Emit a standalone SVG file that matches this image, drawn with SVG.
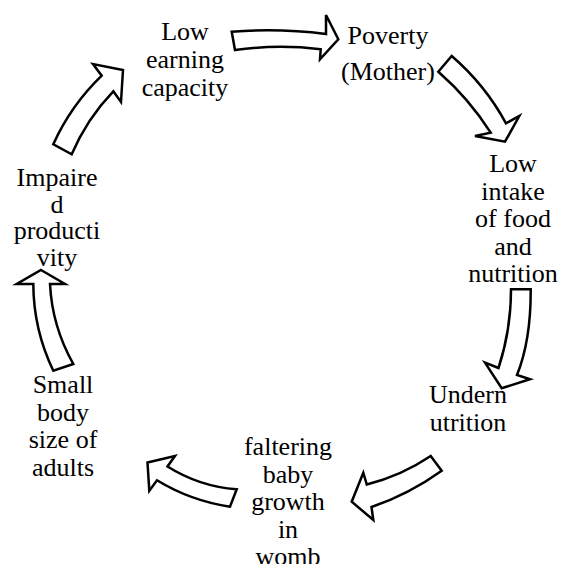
<svg xmlns="http://www.w3.org/2000/svg" width="561" height="564" viewBox="0 0 561 564">
<style>
.t{font-family:"Times New Roman","Liberation Serif","Nimbus Roman","DejaVu Serif",serif;font-size:26px;fill:#000;text-anchor:middle}
.arr{fill:#fff;stroke:#000;stroke-width:2.5;stroke-linejoin:miter}
</style>
<rect width="561" height="564" fill="#fff"/>
<g id="connectors">
<path class="arr" d="M231.7,31.7 Q279,28 326,34 L326,15 L338.3,39.3 L320,59.3 L320.7,49.3 Q278,44 235,50 Z"/>
<path class="arr" d="M438.3,71.7 L451.7,56 Q485,84.7 506,123.3 L519.3,116 L505,141.7 L475,136 L490.7,132.7 Q469,98.4 438.3,71.7 Z"/>
<path class="arr" d="M511,289.3 L530.7,289.3 Q531,340 517,375 L530,379.3 L501.7,388.3 L485,362.7 L498.5,368 Q511,330 511,289.3 Z"/>
<path class="arr" d="M430.7,456 L441.7,470.7 Q409,494.2 371.5,507 L373.3,520 L351.7,501.7 L363.3,472.7 L366.8,484.5 Q401.3,475.8 430.7,456 Z"/>
<path class="arr" d="M236.7,489.3 L230,506.7 Q191,501 157,480.3 L149.3,490.7 L147.5,462.5 L175,456 L167.5,466.5 Q199.3,486.5 236.7,489.3 Z"/>
<path class="arr" d="M41,270 L65,284 L50,284 Q52.1,326.4 73.3,364 L53.3,370.7 Q33.5,329.6 33.3,284 L16.7,284 Z"/>
<path class="arr" d="M53.3,144.3 Q70.9,105.4 101.7,75.7 L93,64 L123,70 L121,102 L113.3,91.3 Q86.8,118.8 71.7,154.3 Z"/>
</g>
<g id="low-earning" class="t"><text x="185" y="40">Low</text><text x="185" y="68">earning</text><text x="185" y="96">capacity</text></g>
<g id="poverty" class="t"><text x="388" y="44">Poverty</text><text x="388" y="80">(Mother)</text></g>
<g id="low-intake" class="t"><text x="513" y="172">Low</text><text x="513" y="199.5">intake</text><text x="513" y="227">of food</text><text x="513" y="254.5">and</text><text x="513" y="282">nutrition</text></g>
<g id="undernutrition" class="t"><text x="468" y="403">Undern</text><text x="468" y="431">utrition</text></g>
<g id="faltering" class="t"><text x="288" y="455">faltering</text><text x="288" y="482.5">baby</text><text x="288" y="510">growth</text><text x="288" y="537.5">in</text><text x="288" y="564.5">womb</text></g>
<g id="small-body" class="t"><text x="63" y="393">Small</text><text x="63" y="420.5">body</text><text x="63" y="448">size of</text><text x="63" y="475.5">adults</text></g>
<g id="impaired" class="t"><text x="57" y="186">Impaire</text><text x="57" y="212.5">d</text><text x="57" y="239">producti</text><text x="57" y="265.5">vity</text></g>
</svg>
